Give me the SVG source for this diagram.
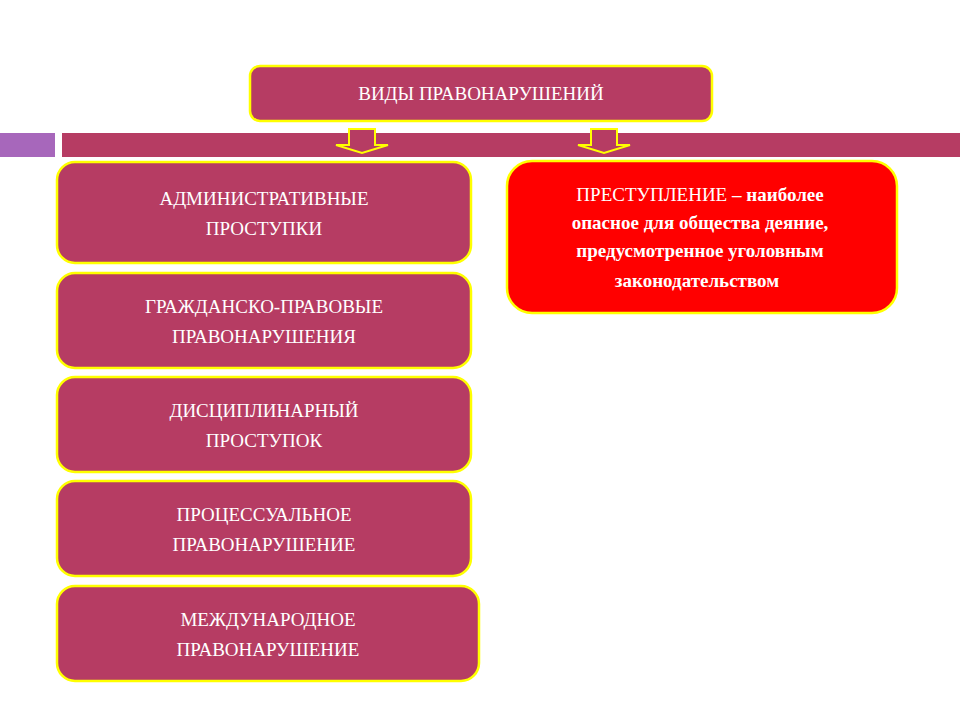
<svg xmlns="http://www.w3.org/2000/svg" width="960" height="720" viewBox="0 0 960 720">
<style>
.b{fill:#b63c63;stroke:#ffff00;stroke-width:2.5}
.t{font-family:"Liberation Serif",serif;font-size:19px;fill:#fff;text-anchor:middle}
.ar{fill:#b63c63;stroke:#ffff00;stroke-width:2}
</style>
<rect width="960" height="720" fill="#fff"/>
<rect x="0" y="133" width="55" height="24" fill="#a767bb"/>
<rect x="62" y="133" width="898" height="24" fill="#b63c63"/>
<g id="connectors">
<path class="ar" d="M349,129 H375 V145 H388 L362,153 L336,145 H349 Z"/>
<path class="ar" d="M591,129 H617 V145 H630 L604,153 L578,145 H591 Z"/>
</g>
<g id="root"><rect class="b" x="250" y="66" width="462" height="55" rx="10"/><text class="t" x="481" y="100">ВИДЫ ПРАВОНАРУШЕНИЙ</text></g>
<g id="n1"><rect class="b" x="57" y="162" width="414" height="101" rx="18"/><text class="t" x="264" y="205">АДМИНИСТРАТИВНЫЕ</text><text class="t" x="264" y="235">ПРОСТУПКИ</text></g>
<g id="n2"><rect class="b" x="57" y="273" width="414" height="95" rx="18"/><text class="t" x="264" y="313">ГРАЖДАНСКО-ПРАВОВЫЕ</text><text class="t" x="264" y="343">ПРАВОНАРУШЕНИЯ</text></g>
<g id="n3"><rect class="b" x="57" y="377" width="414" height="95" rx="18"/><text class="t" x="264" y="417">ДИСЦИПЛИНАРНЫЙ</text><text class="t" x="264" y="447">ПРОСТУПОК</text></g>
<g id="n4"><rect class="b" x="57" y="481" width="414" height="95" rx="18"/><text class="t" x="264" y="521">ПРОЦЕССУАЛЬНОЕ</text><text class="t" x="264" y="551">ПРАВОНАРУШЕНИЕ</text></g>
<g id="n5"><rect class="b" x="57" y="586" width="422" height="95" rx="18"/><text class="t" x="268" y="626">МЕЖДУНАРОДНОЕ</text><text class="t" x="268" y="656">ПРАВОНАРУШЕНИЕ</text></g>
<g id="crime"><rect x="507" y="161" width="390" height="152" rx="25" fill="#ff0000" stroke="#ffff00" stroke-width="2.5"/>
<text class="t" x="700" y="201">ПРЕСТУПЛЕНИЕ <tspan font-weight="bold">– наиболее</tspan></text>
<text class="t" x="700" y="229" font-weight="bold">опасное для общества деяние,</text>
<text class="t" x="700" y="257" font-weight="bold">предусмотренное уголовным</text>
<text class="t" x="700" y="287" font-weight="bold" x-offset="0"><tspan x="697">законодательством</tspan></text></g>
</svg>
